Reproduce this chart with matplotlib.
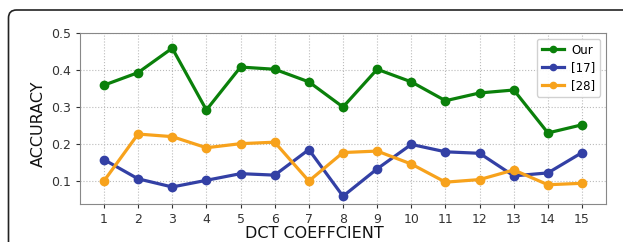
import matplotlib
matplotlib.use("Agg")
import matplotlib.pyplot as plt
from matplotlib.patches import FancyBboxPatch

coef = list(range(1, 16))
our = [0.359, 0.393, 0.459, 0.292, 0.408, 0.402, 0.368, 0.300, 0.402, 0.368, 0.317, 0.338, 0.346, 0.230, 0.252]
ref17 = [0.158, 0.106, 0.084, 0.102, 0.120, 0.116, 0.185, 0.059, 0.133, 0.199, 0.179, 0.175, 0.114, 0.122, 0.177]
ref28 = [0.100, 0.227, 0.220, 0.190, 0.201, 0.205, 0.100, 0.177, 0.181, 0.146, 0.097, 0.104, 0.130, 0.090, 0.094]
labels = ["Our", "[17]", "[28]"]

fig = plt.figure(figsize=(6.23, 2.42), dpi=100)
# outer rounded frame (in inches, extends past right and bottom edges)
frame = FancyBboxPatch((0.085, -1.0), 10.0, 1.0 + 2.42 - 0.10,
                       boxstyle="round,pad=0,rounding_size=0.08",
                       transform=fig.dpi_scale_trans, fill=False, ec="#222222", lw=1.2)
fig.patches.append(frame)

ax = fig.add_axes([80/623, 1 - 204/242, (606-80)/623, (204-33)/242])
ax.plot(coef, our, color="#0a800a", marker="o", lw=2.3, ms=6, label=labels[0])
ax.plot(coef, ref17, color="#3340a5", marker="o", lw=2.3, ms=6, label=labels[1])
ax.plot(coef, ref28, color="#f7a21c", marker="o", lw=2.3, ms=6, label=labels[2])

ax.set_xlim(0.3, 15.7)
ax.set_ylim(0.038, 0.5)
ax.set_xticks(coef)
ax.set_yticks([0.1, 0.2, 0.3, 0.4, 0.5])
ax.tick_params(labelsize=9, colors="#333333", length=3)
for s in ax.spines.values():
    s.set_color("#888888")
ax.grid(True, ls=":", color="#bbbbbb", lw=0.8)
ax.set_xlabel("DCT COEFFCIENT", fontsize=11.5, color="#111111")
ax.set_ylabel("ACCURACY", fontsize=11.5, color="#111111")
ax.xaxis.set_label_coords(0.445, -0.128)
ax.yaxis.set_label_coords(-0.064, 0.468)
leg = ax.legend(loc="upper right", fontsize=8.5, framealpha=0.9, edgecolor="#cccccc",
                labelspacing=0.4, handlelength=1.9, handletextpad=0.6, markerscale=0.75)

fig.savefig("out.png", dpi=100)
